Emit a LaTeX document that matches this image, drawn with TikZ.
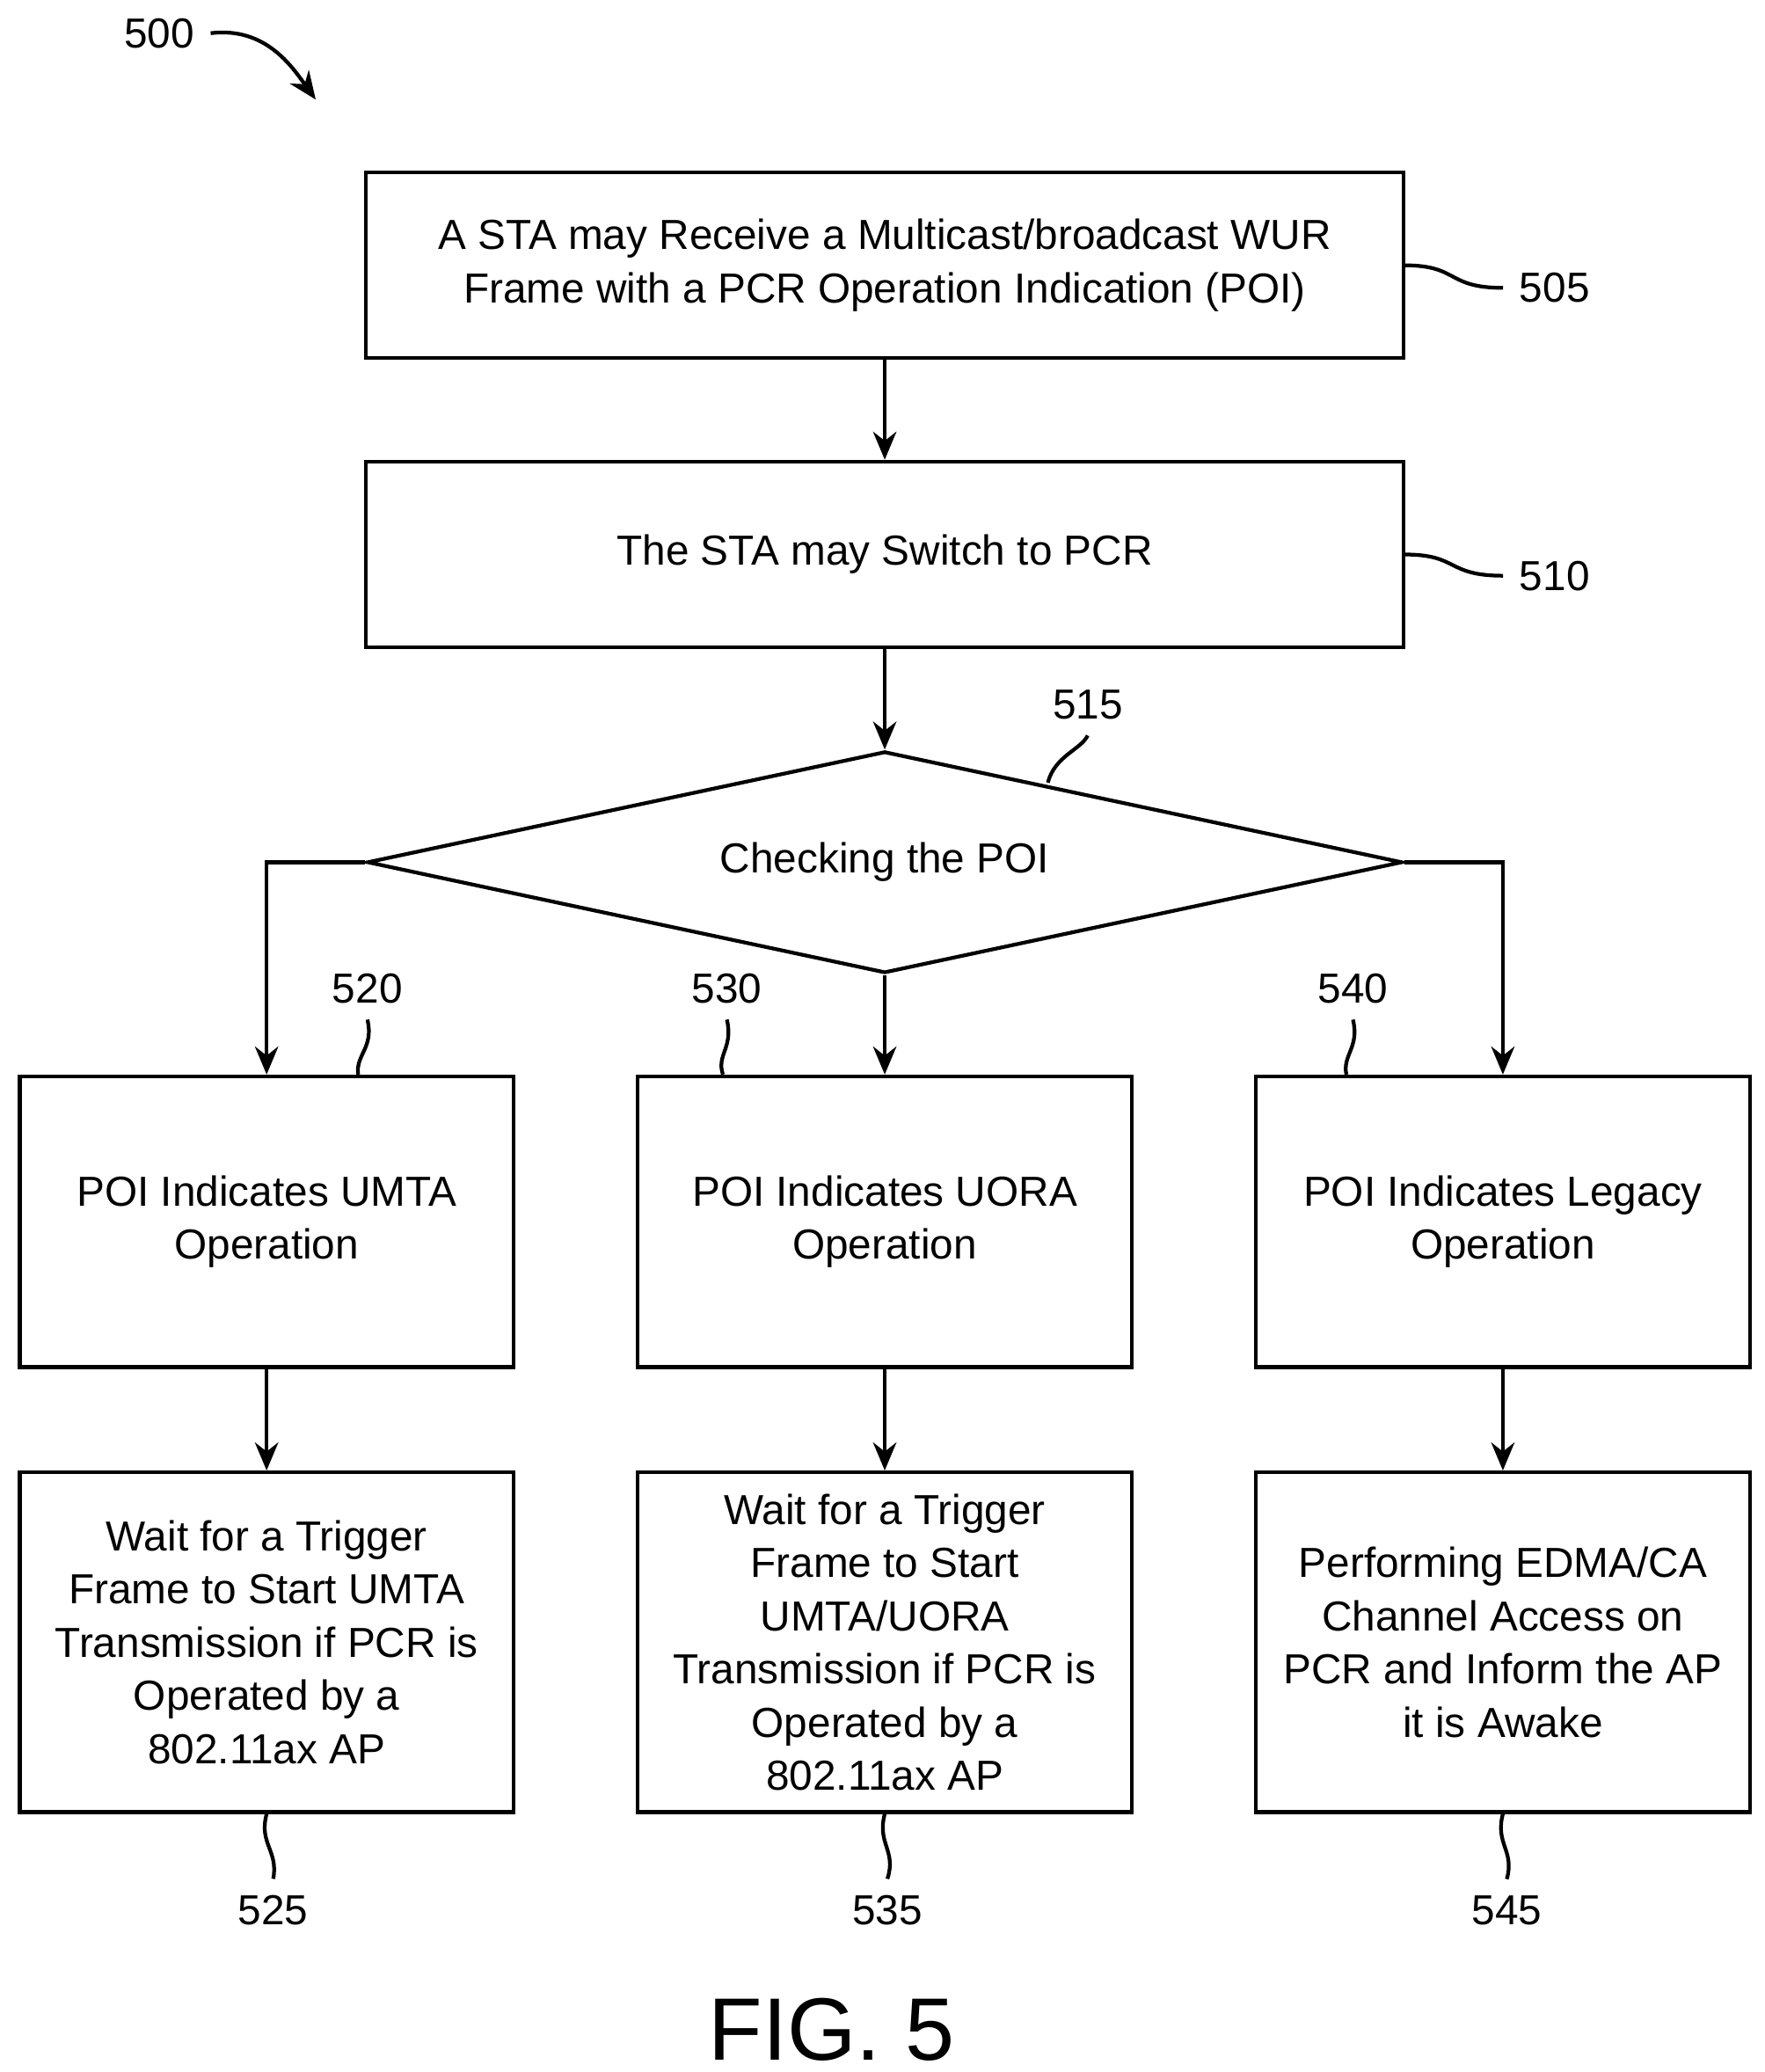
\documentclass[tikz,border=0pt]{standalone}
\usepackage{fontspec}
\setmainfont{Liberation Sans}
\usetikzlibrary{arrows.meta,shapes.geometric,positioning}
\tikzset{
  box/.style={draw, thick, align=center, inner sep=0pt,
    font=\fontsize{9}{11.4}\selectfont},
  wide/.style={box, minimum width=7.82cm, minimum height=1.40cm},
  col/.style={box, minimum width=3.72cm},
  lbl/.style={font=\fontsize{9}{11}\selectfont},
  flow/.style={thick, -{Stealth[length=6pt,width=5pt]}},
}
\begin{document}
\begin{tikzpicture}[x=0.01cm, y=-0.01cm]
    \useasboundingbox (0,0) rectangle (1330,1562);

    % top row
    \node[wide] (s505) at (667,200) {A STA may Receive a Multicast/broadcast WUR\\Frame with a PCR Operation Indication (POI)};
    \node[wide] (s510) at (667,418) {The STA may Switch to PCR};
    \node[draw, thick, diamond, aspect=4.67, minimum width=7.8cm, minimum height=1.67cm, inner sep=0pt,
      font=\fontsize{9}{11.4}\selectfont] (s515) at (667,650) {Checking the POI};

    % middle row
    \node[col, minimum height=2.19cm] (s520) at (201,921) {POI Indicates UMTA\\Operation};
    \node[col, minimum height=2.19cm] (s530) at (667,921) {POI Indicates UORA\\Operation};
    \node[col, minimum height=2.19cm] (s540) at (1133,921) {POI Indicates Legacy\\Operation};

    % bottom row
    \node[col, minimum height=2.56cm] (s525) at (201,1238) {Wait for a Trigger\\Frame to Start UMTA\\Transmission if PCR is\\Operated by a\\802.11ax AP};
    \node[col, minimum height=2.56cm] (s535) at (667,1238) {Wait for a Trigger\\Frame to Start\\UMTA/UORA\\Transmission if PCR is\\Operated by a\\802.11ax AP};
    \node[col, minimum height=2.56cm] (s545) at (1133,1238) {Performing EDMA/CA\\Channel Access on\\PCR and Inform the AP\\it is Awake};

    \draw[flow] (s505) -- (s510);
    \draw[flow] (s510) -- (s515);
    \draw[flow] (s515.west) -| (s520.north);
    \draw[flow] (s515.south) -- (s530.north);
    \draw[flow] (s515.east) -| (s540.north);
    \draw[flow] (s520) -- (s525);
    \draw[flow] (s530) -- (s535);
    \draw[flow] (s540) -- (s545);

    % reference numerals
    \node[lbl] (n500) at (120,25) {500};
    \node[lbl] (n505) at (1172,217) {505};
    \node[lbl] (n510) at (1172,434) {510};
    \node[lbl] (n515) at (820,531) {515};
    \node[lbl] (n520) at (277,745) {520};
    \node[lbl] (n530) at (548,745) {530};
    \node[lbl] (n540) at (1020,745) {540};
    \node[lbl] (n525) at (206,1440) {525};
    \node[lbl] (n535) at (669,1440) {535};
    \node[lbl] (n545) at (1136,1440) {545};
    \node[font=\fontsize{19}{22}\selectfont] (fig) at (627,1530) {FIG. 5};

    \draw[flow] (n500.east) .. controls (200,20) and (220,50) .. (238,75);
    \draw[thick] (1059,200) .. controls (1100,200) and (1090,217) .. (n505.west);
    \draw[thick] (1059,418) .. controls (1100,418) and (1090,434) .. (n510.west);
    \draw[thick] (n515.south) .. controls (815,565) and (795,570) .. (790,590);
    \draw[thick] (n520.south) .. controls (282,790) and (268,795) .. (s520.north -| 270,811);
    \draw[thick] (n530.south) .. controls (553,790) and (540,795) .. (s530.north -| 545,811);
    \draw[thick] (n540.south) .. controls (1025,790) and (1012,795) .. (s540.north -| 1015,811);
    \draw[thick] (s525.south) .. controls (195,1390) and (210,1395) .. (n525.north);
    \draw[thick] (s535.south) .. controls (661,1390) and (676,1395) .. (n535.north);
    \draw[thick] (s545.south) .. controls (1127,1390) and (1142,1395) .. (n545.north);
\end{tikzpicture}
\end{document}
